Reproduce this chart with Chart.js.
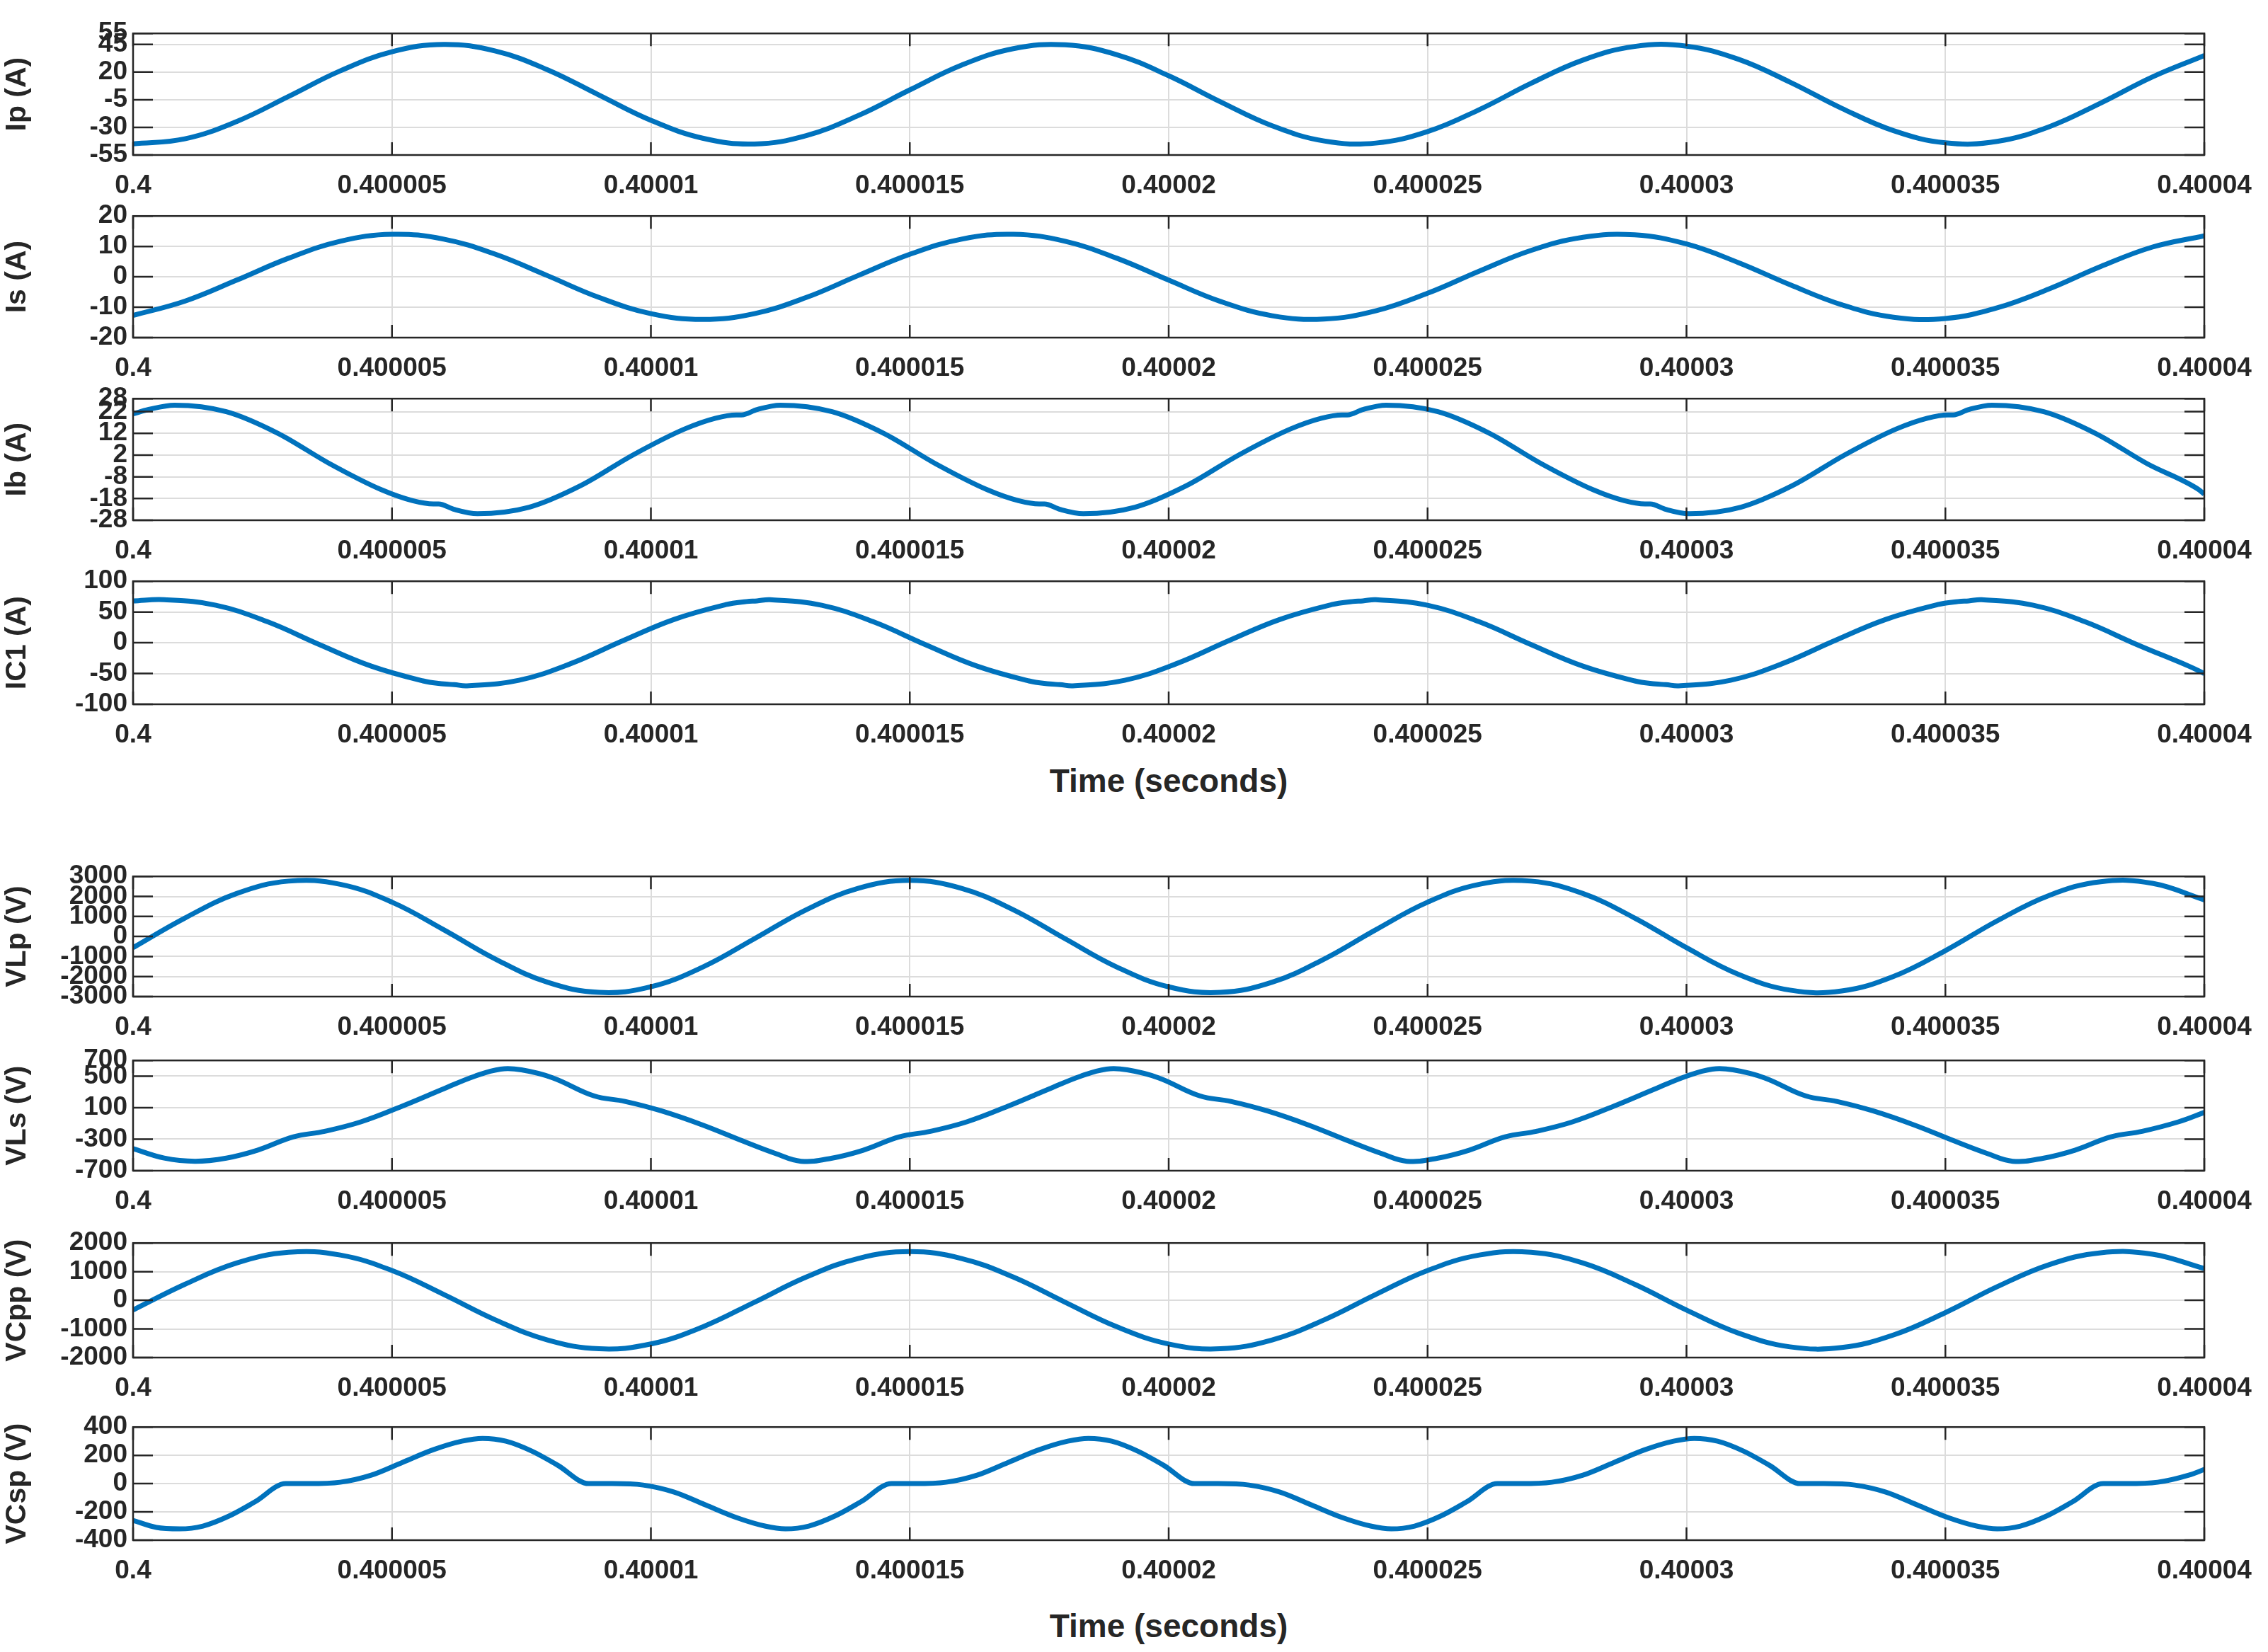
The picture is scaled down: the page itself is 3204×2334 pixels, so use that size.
<!DOCTYPE html>
<html><head><meta charset="utf-8">
<script src="https://cdn.jsdelivr.net/npm/chart.js@4.4.1/dist/chart.umd.min.js"></script>
<style>
body{margin:0;background:#fff;width:3204px;height:2334px;position:relative;overflow:hidden;font-family:"Liberation Sans Narrow","Liberation Sans",Arial,sans-serif}
.p{position:absolute;left:0;width:3204px}
.xl{position:absolute;left:188px;width:2926px;text-align:center;font-weight:bold;font-size:46px;color:#262626}
</style></head><body>
<div class="xl" style="top:1076px">Time (seconds)</div>
<div class="xl" style="top:2270px">Time (seconds)</div>
<script>
// time axis in microseconds after 0.4 s
const xTickValues=[0,5,10,15,20,25,30,35,40];
const xTickLabels=['0.4','0.400005','0.40001','0.400015','0.40002','0.400025','0.40003','0.400035','0.40004'];

const tUniform=[0,1,2,3,4,5,6,7,8,9,10,11,12,13,14,15,16,17,18,19,20,21,22,23,24,25,26,27,28,29,30,31,32,33,34,35,36,37,38,39,40];
const ipValues=[-45,-40.4,-24.7,-2.1,21.1,38.4,45,39,22.2,-0.8,-23.6,-39.8,-45,-37.4,-19.4,3.9,26.3,41.2,44.7,35.7,16.7,-6.9,-28.6,-42.3,-44.2,-33.8,-13.9,9.9,30.9,43.2,43.5,31.7,10.9,-12.8,-33,-44,-42.7,-29.5,-8,15.7,35];
const isValues=[-12.7,-8,-1.1,6.1,11.7,14,12.4,7.4,0.4,-6.8,-12.1,-14,-12.1,-6.8,0.4,7.4,12.4,14,11.7,6.1,-1.1,-8.1,-12.8,-13.9,-11.2,-5.4,1.9,8.7,13,13.8,10.8,4.7,-2.6,-9.2,-13.3,-13.7,-10.2,-4,3.4,9.8,13.5];
const ibTimes=[0,0.3,0.8,1.8,2.8,3.8,4.8,5.4,5.8,5.9,6.2,6.65,7.65,8.65,9.65,10.65,11.25,11.65,11.75,12.05,12.5,13.5,14.5,15.5,16.5,17.1,17.5,17.6,17.9,18.35,19.35,20.35,21.35,22.35,22.95,23.35,23.45,23.75,24.2,25.2,26.2,27.2,28.2,28.8,29.2,29.3,29.6,30.05,31.05,32.05,33.05,34.05,34.65,35.05,35.15,35.45,35.9,36.9,37.9,38.9,39.9,40];
const ibValues=[21,23,25,22,12,-2,-14,-19,-20.5,-20.5,-23,-25,-22,-12,2,14,19,20.5,20.5,23,25,22,12,-2,-14,-19,-20.5,-20.5,-23,-25,-22,-12,2,14,19,20.5,20.5,23,25,22,12,-2,-14,-19,-20.5,-20.5,-23,-25,-22,-12,2,14,19,20.5,20.5,23,25,22,12,-2,-14,-16];
const ic1Times=[0,0.6,1.6,2.6,3.6,4.6,5.6,6.0,6.2,6.45,7.45,8.45,9.45,10.45,11.45,11.85,12.05,12.3,13.3,14.3,15.3,16.3,17.3,17.7,17.9,18.15,19.15,20.15,21.15,22.15,23.15,23.55,23.75,24,25,26,27,28,29,29.4,29.6,29.85,30.85,31.85,32.85,33.85,34.85,35.25,35.45,35.7,36.7,37.7,38.7,39.7,40];
const ic1Values=[68,70,61,34,-3,-38,-62,-67,-68,-70,-61,-34,3,38,62,67,68,70,61,34,-3,-38,-62,-67,-68,-70,-61,-34,3,38,62,67,68,70,61,34,-3,-38,-62,-67,-68,-70,-61,-34,3,38,62,67,68,70,61,34,-3,-38,-50];
const vlpValues=[-558,921,2145,2764,2605,1713,336,-1130,-2282,-2791,-2512,-1530,-112,1336,2405,2800,2405,1336,-112,-1528,-2514,-2791,-2282,-1130,336,1713,2605,2764,2145,921,-558,-1885,-2679,-2719,-1994,-706,781,2047,2736,2654,1829];
const vlsTimes=[0,0.6,1.2,1.8,2.4,3.1,3.7,4.4,5.2,6.0,6.6,7.1,7.5,8.1,8.9,9.5,10.2,11.0,11.8,12.4,12.9,13.5,14.1,14.8,15.4,16.1,16.9,17.7,18.3,18.8,19.2,19.8,20.6,21.2,21.9,22.7,23.5,24.1,24.6,25.2,25.8,26.5,27.1,27.8,28.6,29.4,30,30.5,30.9,31.5,32.3,32.9,33.6,34.4,35.2,35.8,36.3,36.9,37.5,38.2,38.8,39.5,40];
const vlsValues=[-420,-540,-580,-540,-440,-270,-200,-80,120,340,500,590,580,480,250,180,60,-120,-330,-480,-580,-540,-440,-270,-200,-80,120,340,500,590,580,480,250,180,60,-120,-330,-480,-580,-540,-440,-270,-200,-80,120,340,500,590,580,480,250,180,60,-120,-330,-480,-580,-540,-440,-270,-200,-80,40];
const vcppValues=[-339,559,1302,1678,1581,1040,204,-686,-1385,-1694,-1525,-929,-68,811,1460,1700,1460,811,-68,-927,-1526,-1694,-1385,-686,204,1040,1581,1678,1302,559,-339,-1144,-1626,-1650,-1210,-429,474,1243,1661,1611,1110];
const vcspTimes=[0,0.45,0.9,1.35,1.85,2.35,2.95,3.4,4.0,4.6,5.2,5.8,6.35,6.75,7.2,7.7,8.2,8.8,9.25,9.85,10.45,11.05,11.65,12.2,12.6,13.05,13.55,14.05,14.65,15.1,15.7,16.3,16.9,17.5,18.05,18.45,18.9,19.4,19.9,20.5,20.95,21.55,22.15,22.75,23.35,23.9,24.3,24.75,25.25,25.75,26.35,26.8,27.4,28,28.6,29.2,29.75,30.15,30.6,31.1,31.6,32.2,32.65,33.25,33.85,34.45,35.05,35.6,36,36.45,36.95,37.45,38.05,38.5,39.1,39.7,40];
const vcspValues=[-260,-310,-320,-300,-230,-130,0,0,10,60,150,240,300,320,300,230,130,0,0,-10,-60,-150,-240,-300,-320,-300,-230,-130,0,0,10,60,150,240,300,320,300,230,130,0,0,-10,-60,-150,-240,-300,-320,-300,-230,-130,0,0,10,60,150,240,300,320,300,230,130,0,0,-10,-60,-150,-240,-300,-320,-300,-230,-130,0,0,10,60,100];

const ipTicks=[-55,-30,-5,20,45,55], isTicks=[-20,-10,0,10,20], ibTicks=[-28,-18,-8,2,12,22,28],
      ic1Ticks=[-100,-50,0,50,100], vlpTicks=[-3000,-2000,-1000,0,1000,2000,3000],
      vlsTicks=[-700,-300,100,500,700], vcppTicks=[-2000,-1000,0,1000,2000], vcspTicks=[-400,-200,0,200,400];

const panels=[
 {label:'Ip (A)',t:tUniform,v:ipValues,ticks:ipTicks,top:37,bottom:219},
 {label:'Is (A)',t:tUniform,v:isValues,ticks:isTicks,top:295,bottom:477},
 {label:'Ib (A)',t:ibTimes,v:ibValues,ticks:ibTicks,top:553,bottom:735,mono:true},
 {label:'IC1 (A)',t:ic1Times,v:ic1Values,ticks:ic1Ticks,top:811,bottom:995},
 {label:'VLp (V)',t:tUniform,v:vlpValues,ticks:vlpTicks,top:1228,bottom:1408},
 {label:'VLs (V)',t:vlsTimes,v:vlsValues,ticks:vlsTicks,top:1488,bottom:1654},
 {label:'VCpp (V)',t:tUniform,v:vcppValues,ticks:vcppTicks,top:1746,bottom:1918},
 {label:'VCsp (V)',t:vcspTimes,v:vcspValues,ticks:vcspTicks,top:2006,bottom:2176,mono:true}
];
const FONT='"Liberation Sans Narrow","Liberation Sans",Arial,sans-serif';
const LEFT=188, RIGHT=3114, PADTOP=20, XAX=86;

const boxPlugin={id:'box',afterDatasetsDraw(chart){
  const {ctx,chartArea:a,scales}=chart;
  ctx.save();ctx.strokeStyle='#262626';ctx.lineWidth=2.5;
  ctx.beginPath();
  scales.x.ticks.forEach(tk=>{const x=scales.x.getPixelForValue(tk.value);
    ctx.moveTo(x,a.bottom);ctx.lineTo(x,a.bottom-18);ctx.moveTo(x,a.top);ctx.lineTo(x,a.top+18);});
  scales.y.ticks.forEach(tk=>{const y=scales.y.getPixelForValue(tk.value);
    ctx.moveTo(a.left,y);ctx.lineTo(a.left+28,y);ctx.moveTo(a.right,y);ctx.lineTo(a.right-28,y);});
  ctx.stroke();
  ctx.strokeRect(a.left,a.top,a.right-a.left,a.bottom-a.top);
  ctx.restore();}};

panels.forEach(p=>{
  const h=p.bottom-p.top;
  const div=document.createElement('div');div.className='p';
  div.style.top=(p.top-PADTOP)+'px';div.style.height=(h+PADTOP+XAX)+'px';
  const c=document.createElement('canvas');div.appendChild(c);document.body.appendChild(div);
  const ds={data:p.t.map((t,i)=>({x:t,y:p.v[i]})),borderColor:'#0072BD',borderWidth:7,pointRadius:0,fill:false};
  if(p.mono) ds.cubicInterpolationMode='monotone'; else ds.tension=0.4;
  new Chart(c,{type:'line',
   data:{datasets:[ds]},
   options:{animation:false,responsive:true,maintainAspectRatio:false,devicePixelRatio:1,
    layout:{padding:{top:PADTOP,right:3204-RIGHT,left:0,bottom:0}},
    plugins:{legend:{display:false},tooltip:{enabled:false}},
    scales:{
     x:{type:'linear',min:0,max:40,
        afterBuildTicks:s=>{s.ticks=xTickValues.map(v=>({value:v}));},
        afterFit:s=>{s.height=XAX;},
        grid:{color:'#dcdcdc',lineWidth:2,drawTicks:false},border:{display:false},
        ticks:{autoSkip:false,maxRotation:0,padding:22,color:'#262626',font:{family:FONT,size:37,weight:'bold'},
          callback:(v)=>xTickLabels[xTickValues.indexOf(v)]}},
     y:{type:'linear',min:p.ticks[0],max:p.ticks[p.ticks.length-1],
        afterBuildTicks:s=>{s.ticks=p.ticks.map(v=>({value:v}));},
        afterFit:s=>{s.width=LEFT;},
        grid:{color:'#dcdcdc',lineWidth:2,drawTicks:false},border:{display:false},
        title:{display:true,text:p.label,color:'#262626',font:{family:FONT,size:41,weight:'bold'},padding:{top:0,bottom:2}},
        ticks:{autoSkip:false,padding:8,color:'#262626',font:{family:FONT,size:37,weight:'bold'},callback:v=>String(v)}}
    }},plugins:[boxPlugin]});
});
</script></body></html>
